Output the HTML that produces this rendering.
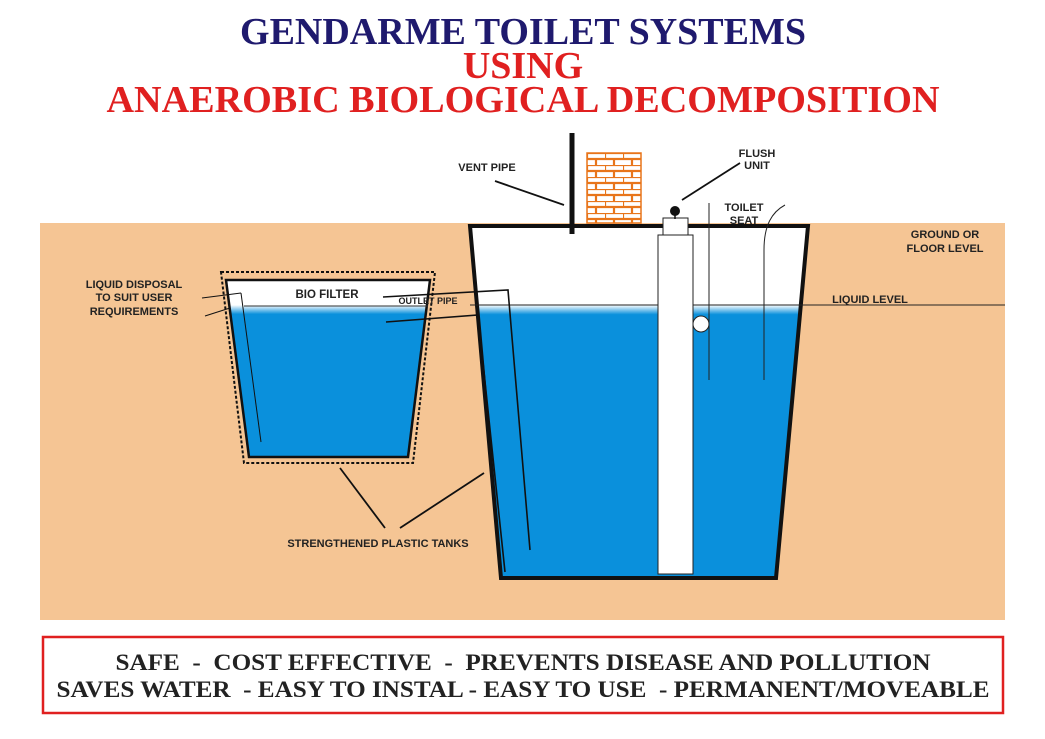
<!DOCTYPE html>
<html><head><meta charset="utf-8"><style>
html,body{margin:0;padding:0;background:#fff;}
svg{display:block;}
</style></head><body>
<svg width="1045" height="739" viewBox="0 0 1045 739" xmlns="http://www.w3.org/2000/svg">
<defs>
<linearGradient id="wg" x1="0" y1="0" x2="0" y2="1">
<stop offset="0" stop-color="#ffffff"/><stop offset="0.035" stop-color="#0a90dc"/><stop offset="1" stop-color="#0a90dc"/>
</linearGradient>
<linearGradient id="wg2" x1="0" y1="0" x2="0" y2="1">
<stop offset="0" stop-color="#ffffff"/><stop offset="0.06" stop-color="#0a90dc"/><stop offset="1" stop-color="#0a90dc"/>
</linearGradient>
<pattern id="brick" width="18" height="12" patternUnits="userSpaceOnUse" x="587" y="153">
<rect width="18" height="12" fill="#fff"/>
<path d="M0 0H18M0 6H18M0 0V6M9 6V12" stroke="#e8751a" stroke-width="2.2" fill="none"/>
</pattern>
</defs>
<g font-family="'Liberation Serif',serif" font-weight="bold" text-anchor="middle">
<text x="523" y="44" font-size="38" fill="#1f1a6e">GENDARME TOILET SYSTEMS</text>
<text x="523" y="78" font-size="38" fill="#e02020">USING</text>
<text x="523" y="112" font-size="38" fill="#e02020" textLength="833" lengthAdjust="spacingAndGlyphs">ANAEROBIC BIOLOGICAL DECOMPOSITION</text>
</g>
<rect x="40" y="223" width="965" height="397" fill="#f5c594"/>
<!-- big tank -->
<polygon points="470,226 808,226 776,578 501,578" fill="#fff"/>
<polygon points="477,305 802,305 775,577 502,577" fill="url(#wg)"/>
<polygon points="470,226 808,226 776,578 501,578" fill="none" stroke="#111" stroke-width="4"/>
<line x1="470" y1="305" x2="1005" y2="305" stroke="#222" stroke-width="1"/>
<!-- small tank -->
<polygon points="221,272 435,272 413,463 244,463" fill="none" stroke="#111" stroke-width="2" stroke-dasharray="3,2"/>
<polygon points="226,280 430,280 408,457 249,457" fill="#fff"/>
<polygon points="228,305 428,305 408,457 250,457" fill="url(#wg2)"/>
<polygon points="226,280 430,280 408,457 249,457" fill="none" stroke="#111" stroke-width="2.5"/>
<line x1="244" y1="306" x2="428" y2="306" stroke="#333" stroke-width="1"/>
<!-- outlet pipe lines -->
<polyline points="383,297 508,290 530,550" fill="none" stroke="#111" stroke-width="1.6"/>
<polyline points="386,322 478,315 505,572" fill="none" stroke="#111" stroke-width="1.6"/>
<line x1="241" y1="293" x2="261" y2="442" stroke="#111" stroke-width="1"/>
<line x1="202" y1="298" x2="241" y2="293" stroke="#111" stroke-width="1"/>
<line x1="205" y1="316" x2="230" y2="308" stroke="#111" stroke-width="1"/>
<!-- vent & chimney -->
<line x1="572" y1="133" x2="572" y2="234" stroke="#111" stroke-width="5"/>
<rect x="587" y="153" width="54" height="70" fill="url(#brick)" stroke="#e8751a" stroke-width="1.5"/>
<!-- flush unit -->
<rect x="658" y="235" width="35" height="339" fill="#fff" stroke="#222" stroke-width="1"/>
<rect x="663" y="218" width="25" height="17" fill="#fff" stroke="#222" stroke-width="1"/>
<circle cx="675" cy="211" r="5" fill="#111"/>
<line x1="675" y1="215" x2="675" y2="219" stroke="#111" stroke-width="1.5"/>
<circle cx="701" cy="324" r="8" fill="#fff" stroke="#222" stroke-width="1"/>
<line x1="709" y1="203" x2="709" y2="380" stroke="#222" stroke-width="1"/>
<path d="M785 205 C772 212 764 225 764 250 L764 380" fill="none" stroke="#222" stroke-width="1"/>
<!-- leader lines -->
<line x1="495" y1="181" x2="564" y2="205" stroke="#111" stroke-width="1.8"/>
<line x1="682" y1="200" x2="740" y2="163" stroke="#111" stroke-width="1.8"/>
<line x1="340" y1="468" x2="385" y2="528" stroke="#111" stroke-width="1.8"/>
<line x1="400" y1="528" x2="484" y2="473" stroke="#111" stroke-width="1.8"/>
<g font-family="'Liberation Sans',sans-serif" font-weight="bold" font-size="11" fill="#222" text-anchor="middle">
<text x="487" y="171">VENT PIPE</text>
<text x="757" y="157">FLUSH</text><text x="757" y="169">UNIT</text>
<text x="744" y="211">TOILET</text><text x="744" y="224">SEAT</text>
<text x="945" y="238">GROUND OR</text><text x="945" y="252">FLOOR LEVEL</text>
<text x="870" y="303">LIQUID LEVEL</text>
<text x="134" y="288">LIQUID DISPOSAL</text><text x="134" y="301">TO SUIT USER</text><text x="134" y="315">REQUIREMENTS</text>
<text x="327" y="298" font-size="11.5">BIO FILTER</text>
<text x="428" y="304" font-size="9">OUTLET PIPE</text>
<text x="378" y="547">STRENGTHENED PLASTIC TANKS</text>
</g>
<rect x="43" y="637" width="960" height="76" fill="none" stroke="#e02020" stroke-width="2.5"/>
<g font-family="'Liberation Serif',serif" font-weight="bold" font-size="23" fill="#222" text-anchor="middle">
<text x="523" y="670" textLength="815" lengthAdjust="spacingAndGlyphs" xml:space="preserve">SAFE  -  COST EFFECTIVE  -  PREVENTS DISEASE AND POLLUTION</text>
<text x="523" y="697" textLength="933" lengthAdjust="spacingAndGlyphs" xml:space="preserve">SAVES WATER  - EASY TO INSTAL - EASY TO USE  - PERMANENT/MOVEABLE</text>
</g>
</svg>
</body></html>
